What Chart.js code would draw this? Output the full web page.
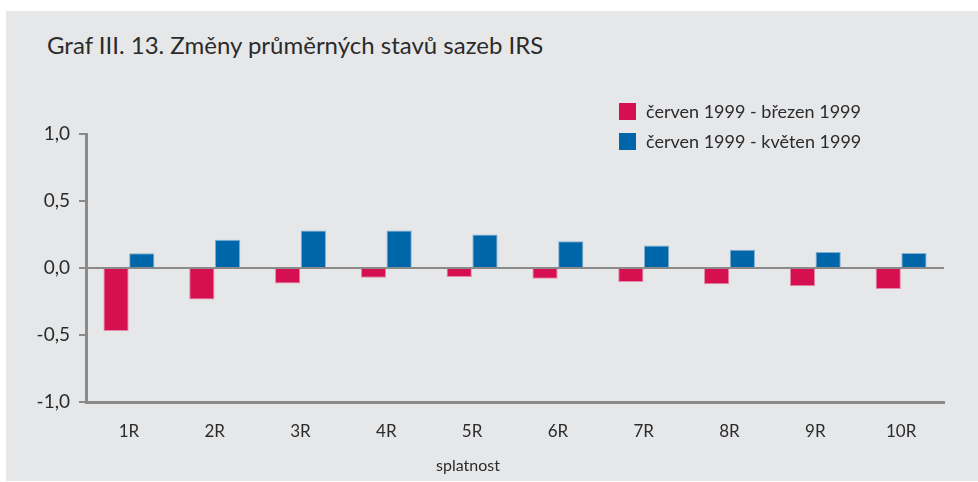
<!DOCTYPE html>
<html lang="cs">
<head>
<meta charset="utf-8">
<script src="https://cdn.jsdelivr.net/npm/chart.js@4.4.1/dist/chart.umd.min.js"></script>
<style>
    html, body { margin: 0; padding: 0; background: #fff; }
    body { width: 978px; height: 482px; position: relative; overflow: hidden; font-family: Lato, "Open Sans", sans-serif; color: #2b2b2b; }
    #panel { position: absolute; left: 6px; top: 11px; right: 0; bottom: 1px; background: #e6e7e9; }
    #graf { position: absolute; left: 0; top: 0; }
    #titulek { position: absolute; left: 47px; top: 30px; font-size: 24px; white-space: nowrap; }
    #osaX { position: absolute; left: 468px; top: 455px; transform: translateX(-50%); font-size: 16px; }
    #legenda { position: absolute; left: 619px; top: 100px; font-size: 18px; }
    #legenda div { height: 30px; line-height: 22px; white-space: nowrap; }
    #legenda span.box { display: inline-block; width: 17px; height: 17px; vertical-align: -2px; margin-right: 10px; }
</style>
</head>
<body>
<div id="panel"></div>
<div id="titulek">Graf III. 13. Změny průměrných stavů sazeb IRS</div>
<canvas id="graf" width="978" height="482"></canvas>
<div id="legenda"></div>
<div id="osaX">splatnost</div>
<script>
// Data z grafu
const splatnosti = ['1R', '2R', '3R', '4R', '5R', '6R', '7R', '8R', '9R', '10R'];
const cervenBrezen = [-0.47, -0.235, -0.115, -0.072, -0.067, -0.08, -0.105, -0.122, -0.137, -0.157];
const cervenKveten = [0.11, 0.21, 0.28, 0.28, 0.25, 0.20, 0.167, 0.137, 0.12, 0.112];
const nazvyRad = ['červen 1999 - březen 1999', 'červen 1999 - květen 1999'];
const yTicks = [-1, -0.5, 0, 0.5, 1];

document.addEventListener('DOMContentLoaded', function() {
    const ctx = document.getElementById('graf').getContext('2d');
    const chart = new Chart(ctx, {
        type: 'bar',
        data: {
            labels: splatnosti,
            datasets: [{
                label: nazvyRad[0],
                data: cervenBrezen,
                backgroundColor: '#d60f50',
                borderColor: '#e48aa8',
                borderWidth: 1
            }, {
                label: nazvyRad[1],
                data: cervenKveten,
                backgroundColor: '#0066aa',
                borderColor: '#7fb0d4',
                borderWidth: 1
            }]
        },
        options: {
            responsive: false,
            animation: false,
            layout: { padding: { left: 0, top: 134, right: 34, bottom: 0 } },
            plugins: {
                legend: { display: false },
                tooltip: { enabled: false }
            },
            datasets: {
                bar: { categoryPercentage: 0.6, barPercentage: 0.98 }
            },
            scales: {
                x: {
                    grid: { display: false },
                    border: { display: true, color: '#8a8a8a', width: 3 },
                    ticks: {
                        color: '#2b2b2b',
                        padding: 11,
                        maxRotation: 0,
                        font: { family: 'Lato', size: 17 }
                    },
                    afterFit: function(scale) { scale.height = 80; }
                },
                y: {
                    min: -1,
                    max: 1,
                    afterBuildTicks: function(scale) {
                        scale.ticks = yTicks.map(v => ({ value: v }));
                    },
                    grid: {
                        color: c => (c.tick && c.tick.value === 0) ? '#8a8a8a' : 'rgba(0,0,0,0)',
                        lineWidth: 2,
                        tickColor: '#8a8a8a',
                        tickLength: 7,
                        drawOnChartArea: true
                    },
                    border: { display: true, color: '#8a8a8a', width: 3 },
                    ticks: {
                        color: '#2b2b2b',
                        padding: 9,
                        font: { family: 'Lato', size: 19 },
                        callback: function(value) {
                            return value.toFixed(1).replace('.', ',');
                        }
                    },
                    afterFit: function(scale) { scale.width = 86; }
                }
            }
        }
    });

    // Legenda
    const legenda = document.getElementById('legenda');
    chart.data.datasets.forEach(ds => {
        const radek = document.createElement('div');
        radek.innerHTML = '<span class="box" style="background:' + ds.backgroundColor + '"></span>' + ds.label;
        legenda.appendChild(radek);
    });
});
</script>
</body>
</html>
